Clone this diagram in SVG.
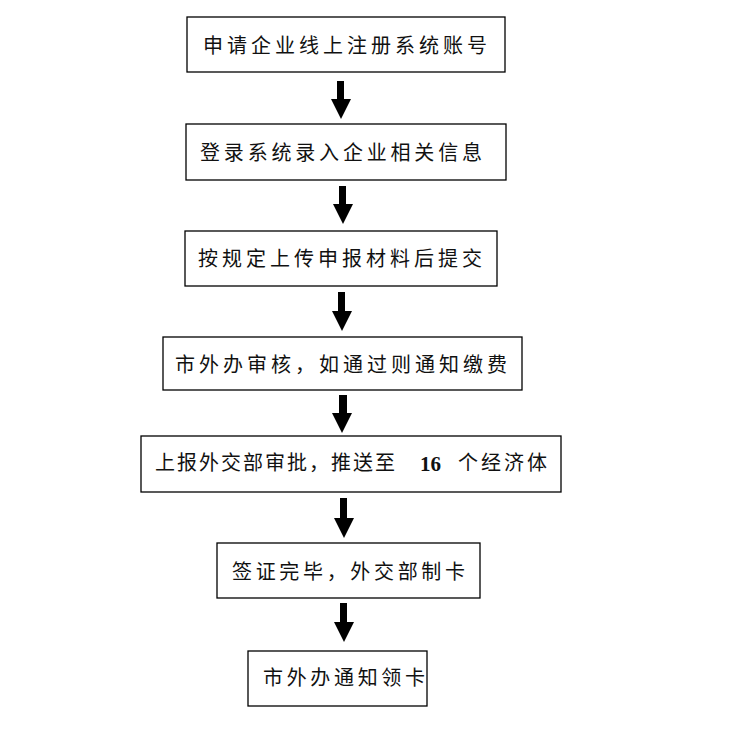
<svg xmlns="http://www.w3.org/2000/svg" width="748" height="748" viewBox="0 0 748 748">
<style>
.box{fill:#fff;stroke:#000;stroke-width:1.3}
.t{font-family:"Noto Sans CJK SC","Liberation Serif",serif;font-size:20px;fill:#111}
.n{font-family:"Liberation Serif",serif;font-weight:bold;font-size:21px}
.ar{fill:#000}
</style>
<rect width="748" height="748" fill="#fff"/>
<g id="n1"><rect class="box" x="187" y="17" width="318" height="55"/><text class="t" x="203" y="53" textLength="284" lengthAdjust="spacing">申请企业线上注册系统账号</text></g>
<g id="n2"><rect class="box" x="186" y="124" width="320" height="56"/><text class="t" x="200" y="160" textLength="282" lengthAdjust="spacing">登录系统录入企业相关信息</text></g>
<g id="n3"><rect class="box" x="185" y="231" width="312" height="55"/><text class="t" x="198" y="266" textLength="284" lengthAdjust="spacing">按规定上传申报材料后提交</text></g>
<g id="n4"><rect class="box" x="163" y="337" width="359" height="53"/><text class="t" x="175" y="372" textLength="332" lengthAdjust="spacing">市外办审核，如通过则通知缴费</text></g>
<g id="n5"><rect class="box" x="141" y="436" width="420" height="56"/><text class="t" x="155" y="470" textLength="240" lengthAdjust="spacing">上报外交部审批，推送至</text><text class="t n" x="420" y="471">16</text><text class="t" x="458" y="470" textLength="89" lengthAdjust="spacing">个经济体</text></g>
<g id="n6"><rect class="box" x="217" y="543" width="263" height="55"/><text class="t" x="232" y="579" textLength="233" lengthAdjust="spacing">签证完毕，外交部制卡</text></g>
<g id="n7"><rect class="box" x="248" y="651" width="179" height="55"/><text class="t" x="263" y="685" textLength="162" lengthAdjust="spacing">市外办通知领卡</text></g>
<g id="connectors">
<path class="ar" d="M337,81 h7 v18 h7 l-10,20 l-10,-20 h6 z"/>
<path class="ar" d="M339,186 h7 v18 h7 l-10,20 l-10,-20 h6 z"/>
<path class="ar" d="M338,292 h7 v19 h7 l-10,20 l-10,-20 h6 z"/>
<path class="ar" d="M339,395 h8 v18 h5 l-10,20 l-10,-20 h7 z"/>
<path class="ar" d="M340,498 h7 v20 h7 l-10,20 l-10,-20 h6 z"/>
<path class="ar" d="M340,603 h7 v19 h7 l-10,20 l-10,-20 h6 z"/>
</g>
</svg>
